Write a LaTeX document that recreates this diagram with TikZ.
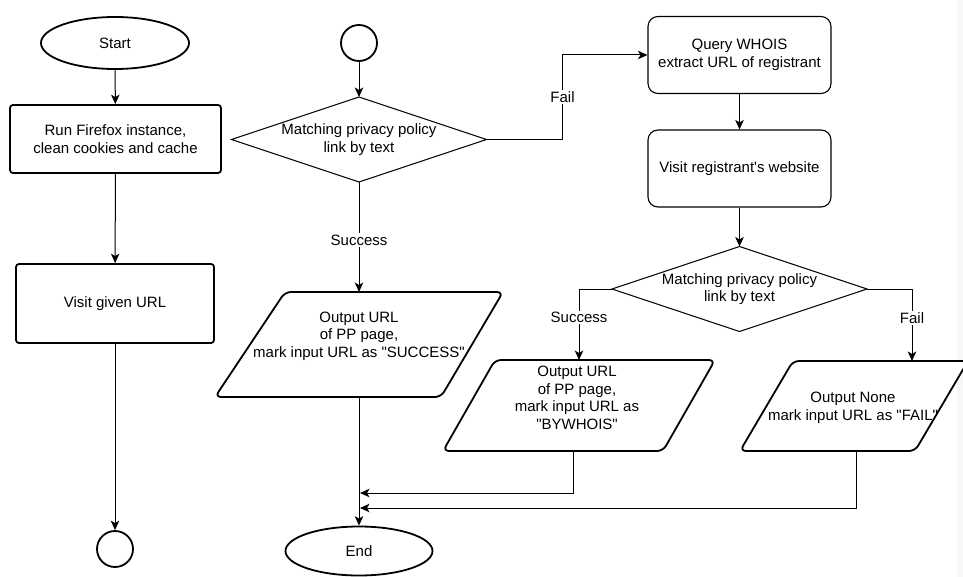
\documentclass[tikz,border=0pt]{standalone}
\usepackage{fontspec}
\setmainfont{Liberation Sans}
\usetikzlibrary{arrows.meta,shapes.geometric}
\newcommand{\qq}{\textquotedbl}
\begin{document}
\begin{tikzpicture}[x=1pt,y=-1pt,
  every node/.style={font=\fontsize{15}{17.5}\selectfont},
  term/.style={ellipse,draw,line width=1.8pt,minimum width=148pt,minimum height=52pt,inner sep=0pt},
  conn/.style={circle,draw,line width=1.8pt,minimum size=36pt,inner sep=0pt},
  procA/.style={rectangle,draw,line width=1.8pt,rounded corners=3pt,align=center,inner sep=0pt},
  procB/.style={rectangle,draw,line width=1.1pt,rounded corners=10pt,align=center,minimum width=183pt,minimum height=77pt,inner sep=0pt},
  decbox/.style={rectangle,minimum width=255pt,minimum height=85pt,inner sep=0pt,outer sep=0pt,align=center},
  decline/.style={draw,line width=1pt,line join=miter},
  iobox/.style={rectangle,inner sep=0pt,outer sep=0pt},
  ioline/.style={line width=1.8pt,rounded corners=6pt,fill=white},
  iotext/.style={align=center,inner sep=0pt},
  arr/.style={line width=1pt,-{Stealth[length=9.5pt,width=8.5pt,inset=2.5pt]}},
  ln/.style={line width=1pt},
  lab/.style={fill=white,inner sep=1.5pt}
]
\useasboundingbox (0,0) rectangle (963,577);
\fill[gray!6] (957,0) rectangle (963,577);

% left column
\node[term] (start) at (115,43) {Start};
\node[procA,minimum width=211pt,minimum height=68pt] (run) at (115.5,139) {Run Firefox instance,\\clean cookies and cache};
\node[procA,minimum width=198pt,minimum height=79pt] (visit) at (115,303.5) {Visit given URL};
\node[conn] (c1) at (115,549) {};

% middle column
\node[conn] (c2) at (359,43) {};
\node[decbox] (d1) at (359,139.5) {Matching privacy policy\\link by text};
\draw[decline] (d1.north) -- (d1.east) -- (d1.south) -- (d1.west) -- cycle;

\node[iobox,minimum width=288pt,minimum height=105pt] (p1) at (359,344.5) {};
\draw[ioline] (p1.south west) -- ++(70,-105) -- (p1.north east) -- ++(-62,105) -- cycle;
\node[iotext] (p1t) at (359,336) {Output URL\\of PP page,\\mark input URL as \qq SUCCESS\qq};

\node[term,minimum width=147pt,minimum height=49pt] (end) at (359,551) {End};

% right column
\node[procB] (q) at (739.5,55) {Query WHOIS\\extract URL of registrant};
\node[procB] (v) at (739.5,168.5) {Visit registrant\textquotesingle s website};
\node[decbox] (d2) at (739.5,289) {Matching privacy policy\\link by text};
\draw[decline] (d2.north) -- (d2.east) -- (d2.south) -- (d2.west) -- cycle;

\node[iobox,minimum width=272pt,minimum height=91pt] (p2) at (579,405.5) {};
\draw[ioline] (p2.south west) -- ++(52,-91) -- (p2.north east) -- ++(-52,91) -- cycle;
\node[iotext] (p2t) at (577,398) {Output URL\\of PP page,\\mark input URL as\\\qq BYWHOIS\qq};

\node[iobox,minimum width=228pt,minimum height=90pt] (p3) at (854,406) {};
\draw[ioline] (p3.south west) -- ++(53,-90) -- (p3.north east) -- ++(-53,90) -- cycle;
\node[iotext] (p3t) at (853,408) {Output None\\mark input URL as \qq FAIL\qq};

\coordinate (j1) at (360,493);
\coordinate (j2) at (360,508);

% connectors
\draw[arr] (start) -- (run);
\draw[arr] (run) -- (visit);
\draw[arr] (visit) -- (c1);
\draw[arr] (c2) -- (d1.north);
\draw[arr] (d1.east) -- ++(76,0) |- node[lab,pos=0.25]{Fail} (q.west);
\draw[arr] (d1.south) -- node[lab,pos=0.53]{Success} (p1.north);
\draw[arr] (q) -- (v);
\draw[arr] (v) -- (d2.north);
\draw[arr] (d2.west) -| node[lab,pos=0.7]{Success} (p2.north);
\draw[arr] (d2.east) -| node[lab,pos=0.7]{Fail} ([xshift=58pt]p3.north);
\draw[arr] (p1.south) -- (end);
\draw[arr] ([xshift=-6pt]p2.south) |- (j1);
\draw[arr] ([xshift=2pt]p3.south) |- (j2);
\end{tikzpicture}
\end{document}
